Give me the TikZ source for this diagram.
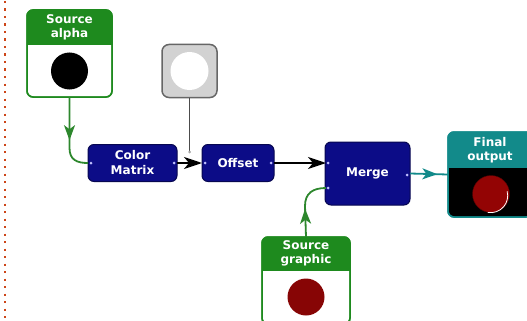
\documentclass[tikz,border=0pt]{standalone}
\usepackage{fontspec}
\setsansfont{DejaVu Sans}
\usepackage{tikz}
\usetikzlibrary{arrows,arrows.meta,decorations.markings,positioning}
\definecolor{srcgreen}{RGB}{30,138,30}
\definecolor{wiregreen}{RGB}{45,135,45}
\definecolor{opblue}{RGB}{12,12,135}
\definecolor{outteal}{RGB}{18,138,138}
\definecolor{dotred}{RGB}{205,70,25}
\definecolor{lampred}{RGB}{135,5,5}
\tikzset{panel/.style={draw=#1, line width=1.5pt, rounded corners=6pt, fill=white, minimum width=86pt, minimum height=87pt, inner sep=0pt, outer sep=0pt},
caption/.style={text=white, font=\sffamily\bfseries\fontsize{12}{14}\selectfont, align=center, inner sep=0pt},
opbox/.style={draw=opblue!60!black, fill=opblue, line width=1pt, rounded corners=6pt, text=white, font=\sffamily\bfseries\fontsize{12}{15}\selectfont, align=center, inner sep=0pt, outer sep=0pt},
lamp/.style={circle, minimum size=37pt, inner sep=0pt},
port/.style={circle, fill=blue!25!white, minimum size=3pt, inner sep=0pt},
%arrow tip placed along the wire
midarrow/.style={postaction={decorate}, decoration={markings, mark=at position #1 with {\arrow{Stealth[length=15pt,width=11pt,inset=4pt]}}}},
greenwire/.style={draw=wiregreen, line width=1.8pt},
blackwire/.style={draw=black, line width=1.8pt, -{Stealth[length=18pt,width=12pt,inset=5pt]}},
tealwire/.style={draw=outteal, line width=1.8pt}}

\begin{document}
\begin{tikzpicture}[x=1pt, y=-1pt]
\useasboundingbox (0,0) rectangle (527,321);

\draw[dotred, line width=2.2pt, dash pattern=on 2.2pt off 5.3pt] (5,1) -- (5,321);

% Source alpha
\node[panel=srcgreen, minimum width=85pt] (alpha) at (69.5,53.5) {};
\begin{scope}
  \clip[rounded corners=6pt] (alpha.north west) rectangle (alpha.south east);
  \fill[srcgreen] (alpha.north west) rectangle ([yshift=-35pt]alpha.north east);
\end{scope}
\draw[srcgreen, line width=1.5pt, rounded corners=6pt] (alpha.north west) rectangle (alpha.south east);
\node[caption] (alphaT) at (69.5,27.5) {Source\\alpha};
\node[lamp, fill=black] (alphaL) at (69.5,71) {};

% gray input
\node[draw=gray!80!black, fill=gray!35, line width=1.5pt, rounded corners=7pt, minimum width=55pt, minimum height=53pt, inner sep=0pt, outer sep=0pt] (gray) at (189.5,71) {};
\node[lamp, fill=white, minimum size=38pt] (grayL) at (gray) {};
\coordinate (tap) at (189.5,152);

% operations
\node[opbox, minimum width=89pt, minimum height=37pt] (cm) at (132.5,163) {Color\\Matrix};
\node[opbox, minimum width=72pt, minimum height=37pt] (offset) at (238,163) {Offset};
\node[opbox, minimum width=85pt, minimum height=63pt] (merge) at (367.5,173.5) {Merge};
\coordinate (mA) at (326,163);
\coordinate (mB) at (326,188);

% Source graphic
\node[panel=srcgreen, minimum width=88pt] (graphic) at (306,280.5) {};
\begin{scope}
  \clip[rounded corners=6pt] (graphic.north west) rectangle (graphic.south east);
  \fill[srcgreen] (graphic.north west) rectangle ([yshift=-34pt]graphic.north east);
\end{scope}
\draw[srcgreen, line width=1.5pt, rounded corners=6pt] (graphic.north west) rectangle (graphic.south east);
\node[caption] (graphicT) at (306,253.5) {Source\\graphic};
\node[lamp, fill=lampred] (graphicL) at (306,297) {};

% Final output
\node[panel=outteal, fill=black, minimum width=84pt, minimum height=85pt] (final) at (490,174.5) {};
\begin{scope}
  \clip[rounded corners=6pt] (final.north west) rectangle (final.south east);
  \fill[outteal] (final.north west) rectangle ([yshift=-36pt]final.north east);
\end{scope}
\draw[outteal, line width=1.5pt, rounded corners=6pt] (final.north west) rectangle (final.south east);
\node[caption] (finalT) at (490,150) {Final\\output};
\node[lamp, fill=lampred!90!red, draw=lampred!60!black] (finalL) at (491,194) {};
\begin{scope}[y=1pt]
  \draw[white, line width=0.8pt] (finalL.-100) arc[start angle=-100, end angle=15, radius=17pt];
\end{scope}

% wires
\draw[greenwire, midarrow=0.55] (alpha.south) -- (69.5,148) .. controls (69.5,160) and (77,163) .. (cm.west);
\draw[greenwire, midarrow=0.45] (graphic.north) -- (305,206) .. controls (305,193) and (313,188) .. (mB);
\draw[draw=gray!60!black, line width=1.2pt] (gray.south) -- (tap);
\fill[gray!70] (tap) circle (1.5pt);
\draw[blackwire] (cm.east) -- (offset.west);
\draw[blackwire] (offset.east) -- (mA);
\draw[tealwire, midarrow=0.72] (merge.east) -- (final.west);

% ports
\node[port] (p1) at (91,163) {};
\node[port] (p2) at (174,163) {};
\node[port] (p3) at (205,163) {};
\node[port] (p4) at (271,163) {};
\node[port] (p5) at (328,163) {};
\node[port] (p6) at (328,188) {};
\node[port] (p7) at (407,175) {};

\end{tikzpicture}
\end{document}
